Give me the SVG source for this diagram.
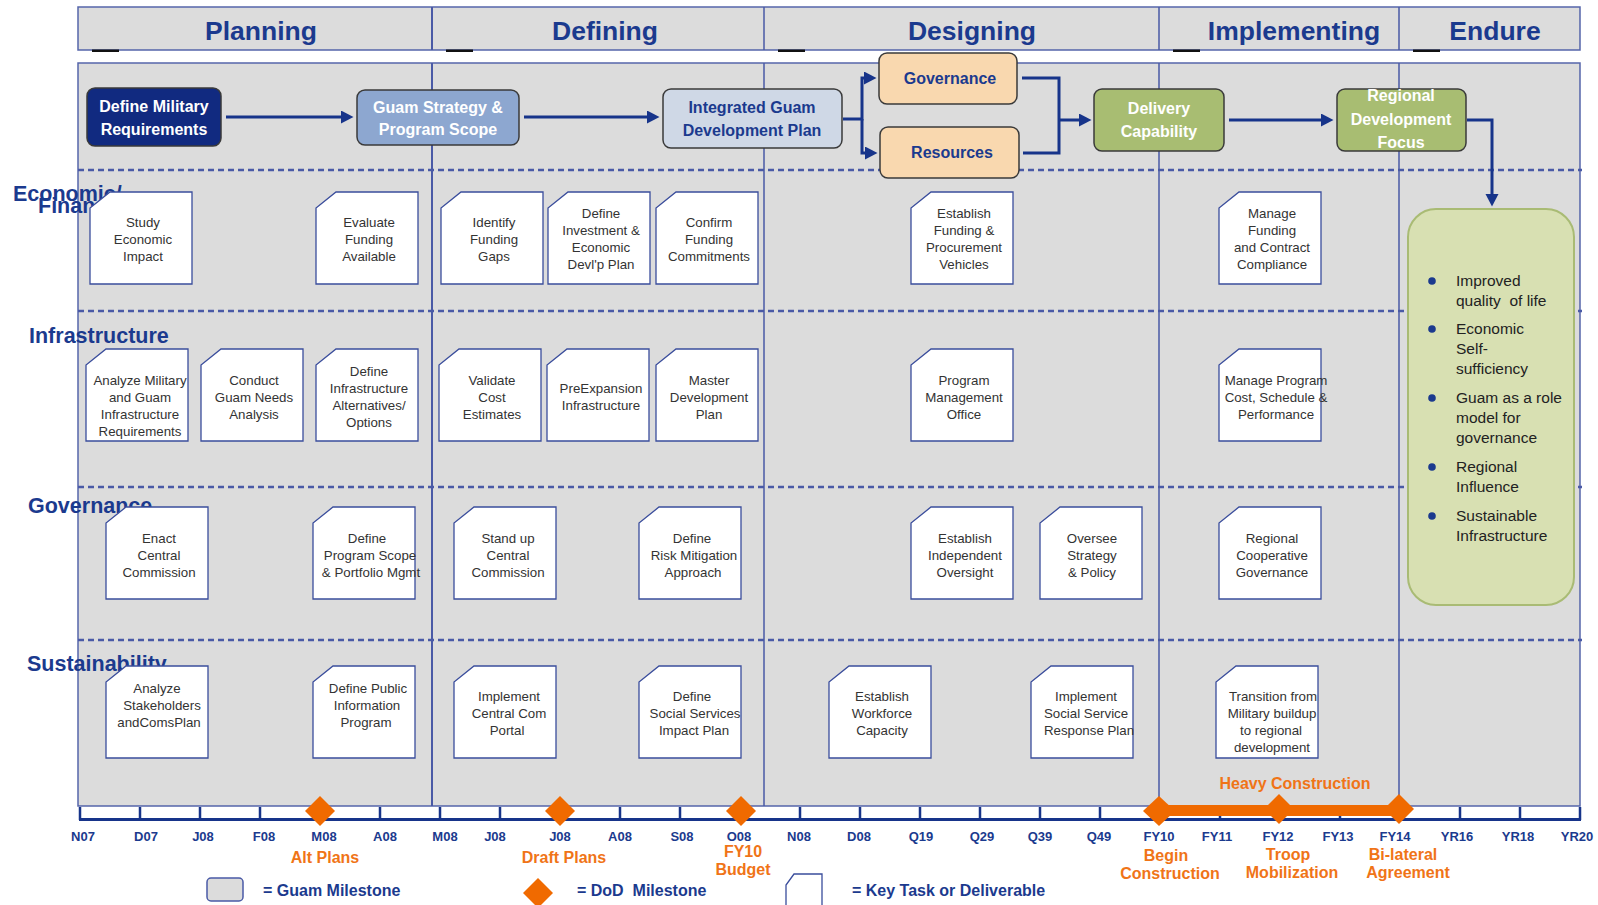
<svg xmlns="http://www.w3.org/2000/svg" width="1598" height="905" viewBox="0 0 1598 905">
<defs>
<marker id="ah" markerUnits="userSpaceOnUse" markerWidth="14" markerHeight="14" refX="3" refY="6.5" orient="auto"><path d="M0,0 L12.5,6.5 L0,13 z" fill="#17348a"/></marker>
<path id="doc" d="M20,0 H102 V92 H0 V16 Z"/>
</defs>
<style>
.hd{fill:#dcdcdc;stroke:#5565aa;stroke-width:1.5}
.ht{font-family:"Liberation Sans",Arial,sans-serif;font-weight:bold;font-size:26.5px;fill:#1b3a8e;text-anchor:middle}
.lane{font-family:"Liberation Sans",Arial,sans-serif;font-weight:bold;font-size:21.5px;fill:#1b3a8e}
.dash{stroke:#4a5aa6;stroke-width:2.5;stroke-dasharray:6 4;fill:none}
.dv{stroke:#4a5aa6;stroke-width:1.5}
.mk{fill:#111}
.task use{fill:#fff;stroke:#3a4d9c;stroke-width:1.3}
.task text{font-family:"Liberation Sans",Arial,sans-serif;font-size:13.3px;fill:#333;text-anchor:middle}
.fb{stroke:#3a3a3a;stroke-width:1.5}
.ft{font-family:"Liberation Sans",Arial,sans-serif;font-weight:bold;font-size:16px;text-anchor:middle}
.con{fill:none;stroke:#17348a;stroke-width:3}
.tl{font-family:"Liberation Sans",Arial,sans-serif;font-weight:bold;font-size:13px;fill:#1b3a8e;text-anchor:middle}
.or{fill:#f06a00}
.ot{font-family:"Liberation Sans",Arial,sans-serif;font-weight:bold;font-size:16px;fill:#f07417;text-anchor:middle}
.lg{font-family:"Liberation Sans",Arial,sans-serif;font-weight:bold;font-size:16px;fill:#1b3a8e}
.bt{font-family:"Liberation Sans",Arial,sans-serif;font-size:15.5px;fill:#222}
.dot{fill:#1b3a8e}
</style>

<!-- header -->
<g id="header">
<rect class="hd" x="78" y="7" width="1502" height="43"/>
<line class="dv" x1="432" y1="7" x2="432" y2="50" style="stroke-width:2"/>
<line class="dv" x1="764" y1="7" x2="764" y2="50"/>
<line class="dv" x1="1159" y1="7" x2="1159" y2="50"/>
<line class="dv" x1="1399" y1="7" x2="1399" y2="50"/>
<rect class="mk" x="92" y="49.5" width="27" height="2.5"/>
<rect class="mk" x="446" y="49.5" width="27" height="2.5"/>
<rect class="mk" x="778" y="49.5" width="27" height="2.5"/>
<rect class="mk" x="1173" y="49.5" width="27" height="2.5"/>
<rect class="mk" x="1413" y="49.5" width="27" height="2.5"/>
<text class="ht" x="261" y="40">Planning</text>
<text class="ht" x="605" y="40">Defining</text>
<text class="ht" x="972" y="40">Designing</text>
<text class="ht" x="1294" y="40">Implementing</text>
<text class="ht" x="1495" y="40">Endure</text>
</g>

<!-- body -->
<g id="body">
<rect class="hd" x="78" y="63" width="1502" height="743"/>
<line class="dash" x1="78" y1="170" x2="1582" y2="170"/>
<line class="dash" x1="78" y1="311" x2="1582" y2="311"/>
<line class="dash" x1="78" y1="487" x2="1582" y2="487"/>
<line class="dash" x1="78" y1="640" x2="1582" y2="640"/>
<line class="dv" x1="432" y1="63" x2="432" y2="806" style="stroke-width:2"/>
<line class="dv" x1="764" y1="63" x2="764" y2="806"/>
<line class="dv" x1="1159" y1="63" x2="1159" y2="806"/>
<line class="dv" x1="1399" y1="63" x2="1399" y2="806"/>
</g>

<!-- lane labels -->
<g id="lanes">
<text class="lane" x="13" y="201">Economic/</text>
<text class="lane" x="38" y="213">Financial</text>
<text class="lane" x="29" y="343">Infrastructure</text>
<text class="lane" x="28" y="513">Governance</text>
<text class="lane" x="27" y="671">Sustainability</text>
</g>

<!-- task boxes row 1 -->
<g id="t-study" class="task" transform="translate(90,192)"><use href="#doc"/><text><tspan x="53" y="35">Study</tspan><tspan x="53" dy="17">Economic</tspan><tspan x="53" dy="17">Impact</tspan></text></g>
<g id="t-evaluate" class="task" transform="translate(316,192)"><use href="#doc"/><text><tspan x="53" y="35">Evaluate</tspan><tspan x="53" dy="17">Funding</tspan><tspan x="53" dy="17">Available</tspan></text></g>
<g id="t-identify" class="task" transform="translate(441,192)"><use href="#doc"/><text><tspan x="53" y="35">Identify</tspan><tspan x="53" dy="17">Funding</tspan><tspan x="53" dy="17">Gaps</tspan></text></g>
<g id="t-investment" class="task" transform="translate(548,192)"><use href="#doc"/><text><tspan x="53" y="26">Define</tspan><tspan x="53" dy="17">Investment &amp;</tspan><tspan x="53" dy="17">Economic</tspan><tspan x="53" dy="17">Devl'p Plan</tspan></text></g>
<g id="t-confirm" class="task" transform="translate(656,192)"><use href="#doc"/><text><tspan x="53" y="35">Confirm</tspan><tspan x="53" dy="17">Funding</tspan><tspan x="53" dy="17">Commitments</tspan></text></g>
<g id="t-establish-funding" class="task" transform="translate(911,192)"><use href="#doc"/><text><tspan x="53" y="26">Establish</tspan><tspan x="53" dy="17">Funding &amp;</tspan><tspan x="53" dy="17">Procurement</tspan><tspan x="53" dy="17">Vehicles</tspan></text></g>
<g id="t-manage-funding" class="task" transform="translate(1219,192)"><use href="#doc"/><text><tspan x="53" y="26">Manage</tspan><tspan x="53" dy="17">Funding</tspan><tspan x="53" dy="17">and Contract</tspan><tspan x="53" dy="17">Compliance</tspan></text></g>

<!-- row 2 -->
<g id="t-analyze-mil" class="task" transform="translate(86,349)"><use href="#doc"/><text><tspan x="54" y="36">Analyze Military</tspan><tspan x="54" dy="17">and Guam</tspan><tspan x="54" dy="17">Infrastructure</tspan><tspan x="54" dy="17">Requirements</tspan></text></g>
<g id="t-conduct" class="task" transform="translate(201,349)"><use href="#doc"/><text><tspan x="53" y="36">Conduct</tspan><tspan x="53" dy="17">Guam Needs</tspan><tspan x="53" dy="17">Analysis</tspan></text></g>
<g id="t-define-infra" class="task" transform="translate(316,349)"><use href="#doc"/><text><tspan x="53" y="27">Define</tspan><tspan x="53" dy="17">Infrastructure</tspan><tspan x="53" dy="17">Alternatives/</tspan><tspan x="53" dy="17">Options</tspan></text></g>
<g id="t-validate" class="task" transform="translate(439,349)"><use href="#doc"/><text><tspan x="53" y="36">Validate</tspan><tspan x="53" dy="17">Cost</tspan><tspan x="53" dy="17">Estimates</tspan></text></g>
<g id="t-preexp" class="task" transform="translate(547,349)"><use href="#doc"/><text><tspan x="54" y="44">PreExpansion</tspan><tspan x="54" dy="17">Infrastructure</tspan></text></g>
<g id="t-master" class="task" transform="translate(656,349)"><use href="#doc"/><text><tspan x="53" y="36">Master</tspan><tspan x="53" dy="17">Development</tspan><tspan x="53" dy="17">Plan</tspan></text></g>
<g id="t-pmo" class="task" transform="translate(911,349)"><use href="#doc"/><text><tspan x="53" y="36">Program</tspan><tspan x="53" dy="17">Management</tspan><tspan x="53" dy="17">Office</tspan></text></g>
<g id="t-manage-program" class="task" transform="translate(1219,349)"><use href="#doc"/><text><tspan x="57" y="36">Manage Program</tspan><tspan x="57" dy="17">Cost, Schedule &amp;</tspan><tspan x="57" dy="17">Performance</tspan></text></g>

<!-- row 3 -->
<g id="t-enact" class="task" transform="translate(106,507)"><use href="#doc"/><text><tspan x="53" y="36">Enact</tspan><tspan x="53" dy="17">Central</tspan><tspan x="53" dy="17">Commission</tspan></text></g>
<g id="t-define-scope" class="task" transform="translate(313,507)"><use href="#doc"/><text><tspan x="54" y="36">Define</tspan><tspan x="57" dy="17">Program Scope</tspan><tspan x="58" dy="17">&amp; Portfolio Mgmt</tspan></text></g>
<g id="t-standup" class="task" transform="translate(454,507)"><use href="#doc"/><text><tspan x="54" y="36">Stand up</tspan><tspan x="54" dy="17">Central</tspan><tspan x="54" dy="17">Commission</tspan></text></g>
<g id="t-risk" class="task" transform="translate(639,507)"><use href="#doc"/><text><tspan x="53" y="36">Define</tspan><tspan x="55" dy="17">Risk Mitigation</tspan><tspan x="54" dy="17">Approach</tspan></text></g>
<g id="t-oversight" class="task" transform="translate(911,507)"><use href="#doc"/><text><tspan x="54" y="36">Establish</tspan><tspan x="54" dy="17">Independent</tspan><tspan x="54" dy="17">Oversight</tspan></text></g>
<g id="t-oversee" class="task" transform="translate(1040,507)"><use href="#doc"/><text><tspan x="52" y="36">Oversee</tspan><tspan x="52" dy="17">Strategy</tspan><tspan x="52" dy="17">&amp; Policy</tspan></text></g>
<g id="t-regional-coop" class="task" transform="translate(1219,507)"><use href="#doc"/><text><tspan x="53" y="36">Regional</tspan><tspan x="53" dy="17">Cooperative</tspan><tspan x="53" dy="17">Governance</tspan></text></g>

<!-- row 4 -->
<g id="t-stakeholders" class="task" transform="translate(106,666)"><use href="#doc"/><text><tspan x="51" y="27">Analyze</tspan><tspan x="56" dy="17">Stakeholders</tspan><tspan x="53" dy="17">andComsPlan</tspan></text></g>
<g id="t-public-info" class="task" transform="translate(313,666)"><use href="#doc"/><text><tspan x="55" y="27">Define Public</tspan><tspan x="54" dy="17">Information</tspan><tspan x="53" dy="17">Program</tspan></text></g>
<g id="t-portal" class="task" transform="translate(454,666)"><use href="#doc"/><text><tspan x="55" y="35">Implement</tspan><tspan x="55" dy="17">Central Com</tspan><tspan x="53" dy="17">Portal</tspan></text></g>
<g id="t-social-plan" class="task" transform="translate(639,666)"><use href="#doc"/><text><tspan x="53" y="35">Define</tspan><tspan x="56" dy="17">Social Services</tspan><tspan x="55" dy="17">Impact Plan</tspan></text></g>
<g id="t-workforce" class="task" transform="translate(829,666)"><use href="#doc"/><text><tspan x="53" y="35">Establish</tspan><tspan x="53" dy="17">Workforce</tspan><tspan x="53" dy="17">Capacity</tspan></text></g>
<g id="t-social-response" class="task" transform="translate(1031,666)"><use href="#doc"/><text><tspan x="55" y="35">Implement</tspan><tspan x="55" dy="17">Social Service</tspan><tspan x="58" dy="17">Response Plan</tspan></text></g>
<g id="t-transition" class="task" transform="translate(1216,666)"><use href="#doc"/><text><tspan x="57" y="35">Transition from</tspan><tspan x="56" dy="17">Military buildup</tspan><tspan x="55" dy="17">to regional</tspan><tspan x="56" dy="16.5">development</tspan></text></g>

<!-- flow boxes -->
<g id="n-military"><rect class="fb" x="87" y="88" width="134" height="58" rx="8" fill="#112a80"/><text class="ft" fill="#fff"><tspan x="154" y="112">Define Military</tspan><tspan x="154" y="135">Requirements</tspan></text></g>
<g id="n-strategy"><rect class="fb" x="357" y="90" width="162" height="55" rx="8" fill="#8da7d0"/><text class="ft" fill="#fff"><tspan x="438" y="113">Guam Strategy &amp;</tspan><tspan x="438" y="135">Program Scope</tspan></text></g>
<g id="n-integrated"><rect class="fb" x="663" y="89" width="179" height="59" rx="8" fill="#cfd8e6"/><text class="ft" fill="#1b3a8e"><tspan x="752" y="113">Integrated Guam</tspan><tspan x="752" y="136">Development Plan</tspan></text></g>
<g id="n-governance"><rect class="fb" x="879" y="53" width="138" height="51" rx="8" fill="#f9d8af"/><text class="ft" fill="#1b3a8e" x="950" y="84">Governance</text></g>
<g id="n-resources"><rect class="fb" x="880" y="127" width="139" height="51" rx="8" fill="#f9d8af"/><text class="ft" fill="#1b3a8e" x="952" y="158">Resources</text></g>
<g id="n-delivery"><rect class="fb" x="1094" y="89" width="130" height="62" rx="8" fill="#a8bd72"/><text class="ft" fill="#fff"><tspan x="1159" y="114">Delivery</tspan><tspan x="1159" y="137">Capability</tspan></text></g>
<g id="n-regional"><rect class="fb" x="1337" y="89" width="129" height="62" rx="8" fill="#a8bd72"/><text class="ft" fill="#fff"><tspan x="1401" y="101">Regional</tspan><tspan x="1401" y="124.5">Development</tspan><tspan x="1401" y="148">Focus</tspan></text></g>

<!-- connectors -->
<g id="connectors" class="con">
<path d="M226,117 H344" marker-end="url(#ah)"/>
<path d="M524,117 H650" marker-end="url(#ah)"/>
<path d="M843,119 H862 V78 H867" marker-end="url(#ah)"/>
<path d="M862,119 V153 H868" marker-end="url(#ah)"/>
<path d="M1022,78 H1059 V153 H1023"/>
<path d="M1059,120 H1082" marker-end="url(#ah)"/>
<path d="M1229,120 H1324" marker-end="url(#ah)"/>
<path d="M1467,120 H1492 V197" marker-end="url(#ah)"/>
</g>

<!-- outcome box -->
<g id="n-outcomes">
<rect x="1408" y="209" width="166" height="396" rx="28" fill="#d8e0b2" stroke="#a9bb74" stroke-width="2"/>
<circle class="dot" cx="1432" cy="281" r="3.8"/>
<circle class="dot" cx="1432" cy="329" r="3.8"/>
<circle class="dot" cx="1432" cy="398" r="3.8"/>
<circle class="dot" cx="1432" cy="467" r="3.8"/>
<circle class="dot" cx="1432" cy="516" r="3.8"/>
<text class="bt" xml:space="preserve"><tspan x="1456" y="285.5">Improved</tspan><tspan x="1456" y="305.5">quality  of life</tspan><tspan x="1456" y="334">Economic</tspan><tspan x="1456" y="354">Self-</tspan><tspan x="1456" y="374">sufficiency</tspan><tspan x="1456" y="403">Guam as a role</tspan><tspan x="1456" y="423">model for</tspan><tspan x="1456" y="443">governance</tspan><tspan x="1456" y="472">Regional</tspan><tspan x="1456" y="492">Influence</tspan><tspan x="1456" y="521">Sustainable</tspan><tspan x="1456" y="541">Infrastructure</tspan></text>
</g>

<!-- timeline -->
<g id="timeline">
<line x1="79" y1="819.5" x2="1581" y2="819.5" stroke="#17348a" stroke-width="3"/>
<path stroke="#17348a" stroke-width="2.5" d="M80,807V820M140,807V820M200,807V820M260,807V820M320,807V820M380,807V820M440,807V820M500,807V820M560,807V820M620,807V820M680,807V820M740,807V820M800,807V820M860,807V820M920,807V820M980,807V820M1040,807V820M1100,807V820M1160,807V820M1220,807V820M1280,807V820M1340,807V820M1400,807V820M1460,807V820M1520,807V820M1580,807V820"/>
<text class="tl" x="83" y="841">N07</text>
<text class="tl" x="146" y="841">D07</text>
<text class="tl" x="203" y="841">J08</text>
<text class="tl" x="264" y="841">F08</text>
<text class="tl" x="324" y="841">M08</text>
<text class="tl" x="385" y="841">A08</text>
<text class="tl" x="445" y="841">M08</text>
<text class="tl" x="495" y="841">J08</text>
<text class="tl" x="560" y="841">J08</text>
<text class="tl" x="620" y="841">A08</text>
<text class="tl" x="682" y="841">S08</text>
<text class="tl" x="739" y="841">O08</text>
<text class="tl" x="799" y="841">N08</text>
<text class="tl" x="859" y="841">D08</text>
<text class="tl" x="921" y="841">Q19</text>
<text class="tl" x="982" y="841">Q29</text>
<text class="tl" x="1040" y="841">Q39</text>
<text class="tl" x="1099" y="841">Q49</text>
<text class="tl" x="1159" y="841">FY10</text>
<text class="tl" x="1217" y="841">FY11</text>
<text class="tl" x="1278" y="841">FY12</text>
<text class="tl" x="1338" y="841">FY13</text>
<text class="tl" x="1395" y="841">FY14</text>
<text class="tl" x="1457" y="841">YR16</text>
<text class="tl" x="1518" y="841">YR18</text>
<text class="tl" x="1577" y="841">YR20</text>
<polygon class="or" points="305,811 320,796 335,811 320,826"/>
<polygon class="or" points="545,811 560,796 575,811 560,826"/>
<polygon class="or" points="726,811 741,796 756,811 741,826"/>
<rect class="or" x="1159" y="805" width="240" height="11"/>
<polygon class="or" points="1143,811 1159,796 1175,811 1159,826"/>
<polygon class="or" points="1264,809 1279,794 1294,809 1279,824"/>
<polygon class="or" points="1384,809 1399,794 1414,809 1399,824"/>
<text class="ot" x="1295" y="789">Heavy Construction</text>
<text class="ot" x="325" y="863">Alt Plans</text>
<text class="ot" x="564" y="863">Draft Plans</text>
<text class="ot"><tspan x="743" y="857">FY10</tspan><tspan x="743" y="875">Budget</tspan></text>
<text class="ot"><tspan x="1166" y="861">Begin</tspan><tspan x="1170" y="879">Construction</tspan></text>
<text class="ot"><tspan x="1288" y="860">Troop</tspan><tspan x="1292" y="878">Mobilization</tspan></text>
<text class="ot"><tspan x="1403" y="860">Bi-lateral</tspan><tspan x="1408" y="878">Agreement</tspan></text>
</g>

<!-- legend -->
<g id="legend">
<rect x="207" y="878" width="36" height="23" rx="4" fill="#dcdcdc" stroke="#4a5aa6" stroke-width="1.5"/>
<text class="lg" x="263" y="896">= Guam Milestone</text>
<polygon class="or" points="523,893 538,878 553,893 538,908"/>
<text class="lg" x="577" y="896" xml:space="preserve">= DoD  Milestone</text>
<path d="M794,874 H822 V912 H786 V885 Z" fill="#fff" stroke="#3a4d9c" stroke-width="1.3"/>
<text class="lg" x="852" y="896">= Key Task or Deliverable</text>
</g>
</svg>
